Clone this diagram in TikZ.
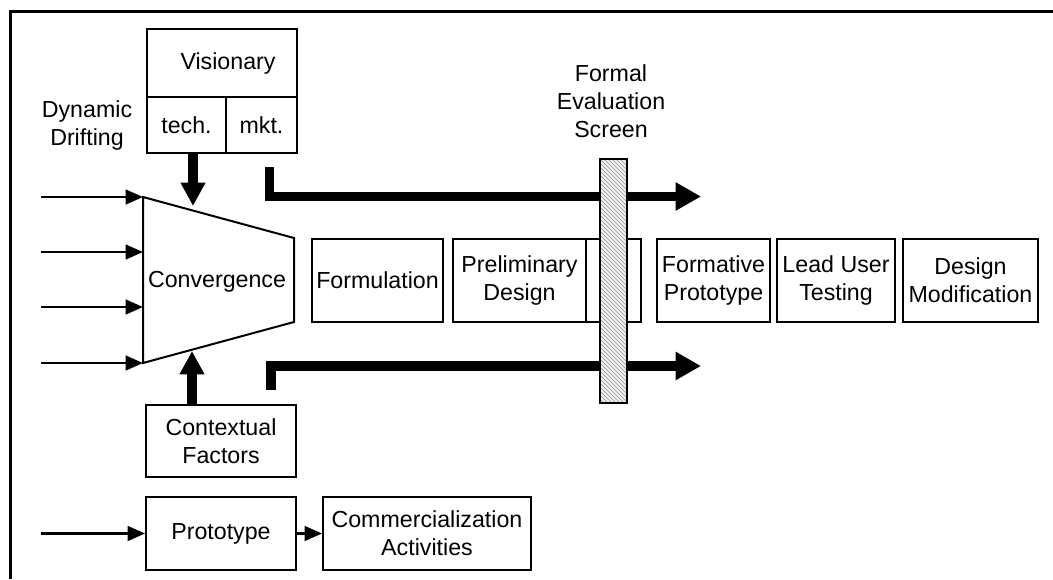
\documentclass[tikz,border=0pt]{standalone}
\usepackage{fontspec}
\setmainfont{Liberation Sans}
\usetikzlibrary{arrows.meta,patterns}
\begin{document}
\begin{tikzpicture}[x=0.75pt,y=-0.75pt,
  txt/.style={font=\fontsize{17.4}{21}\selectfont, align=center, inner sep=0pt},
  box/.style={txt, draw, line width=1.5pt, anchor=center},
  thinarrow/.style={line width=1.7pt, -{Triangle[length=13pt,width=11pt]}},
  thickarrow/.style={line width=6.8pt, -{Triangle[length=19pt,width=20pt]}},
  thickup/.style={line width=7.5pt, -{Triangle[length=17.5pt,width=17.5pt]}},
  screenbox/.style={draw, line width=1.4pt, preaction={fill=gray!12}, pattern=north west lines, pattern color=gray!80, minimum width=20.25pt, minimum height=183pt, inner sep=0pt}
]
\useasboundingbox (0,0) rectangle (1053,579);
% frame (top and left edges)
\coordinate (fbl) at (10.5,579);
\coordinate (ftl) at (10.5,11.5);
\coordinate (ftr) at (1053,11.5);
\draw[line width=2.6pt] (fbl) -- (ftl) -- (ftr);

% Visionary block
\node[box, minimum width=112.5pt, minimum height=51pt] (vis) at (222,63) {\hspace*{9pt}Visionary};
\node[box, minimum width=59.25pt, minimum height=42pt] (tech) at (186.5,125) {tech.};
\node[box, minimum width=53.25pt, minimum height=42pt] (mkt) at (261.5,125) {mkt.};

\node[txt] (dyn) at (87,125.5) {Dynamic\\Drifting};
\node[txt] (fes) at (611,101) {Formal\\Evaluation\\Screen};

% Convergence trapezoid
\coordinate (c1) at (143,197);
\coordinate (c2) at (294,238);
\coordinate (c3) at (294,322);
\coordinate (c4) at (143,363);
\draw[line width=1.5pt, line join=miter] (c1) -- (c2) -- (c3) -- (c4) -- cycle;
\node[txt] (conv) at (217,282) {Convergence};

% incoming thin arrows
\coordinate (i1) at (41,197);
\coordinate (i2) at (41,252);
\coordinate (i3) at (41,307);
\coordinate (i4) at (41,363);
\coordinate (e2) at (143,252);
\coordinate (e3) at (143,307);
\draw[thinarrow] (i1) -- (c1);
\draw[thinarrow] (i2) -- (e2);
\draw[thinarrow] (i3) -- (e3);
\draw[thinarrow] (i4) -- (c4);

% stage boxes
\node[box, minimum width=98.25pt, minimum height=62.25pt] (form) at (377.5,280.5) {Formulation};
\node[box, minimum width=99.75pt, minimum height=62.25pt] (prelim) at (519.5,280.5) {Preliminary\\Design};
\node[box, minimum width=41.25pt, minimum height=62.25pt] (hidden) at (613.5,280.5) {};
\node[box, minimum width=84.75pt, minimum height=62.25pt] (formative) at (713.5,280.5) {Formative\\Prototype};
\node[box, minimum width=88.5pt, minimum height=62.25pt] (lead) at (836,280.5) {Lead User\\Testing};
\node[box, minimum width=101.25pt, minimum height=62.25pt] (dmod) at (970.5,280.5) {Design\\Modification};

% bottom boxes
\node[box, minimum width=112.5pt, minimum height=54pt] (ctx) at (221,441) {Contextual\\Factors};
\node[box, minimum width=112.5pt, minimum height=54.75pt] (proto) at (221,533.5) {Prototype};
\node[box, minimum width=156pt, minimum height=54.75pt] (comm) at (427,533.5) {Commercialization\\Activities};
\coordinate (pin) at (41,533.5);
\draw[thinarrow] (pin) -- (proto);
\draw[thinarrow] (proto) -- (comm);

% thick vertical arrows
\coordinate (techout) at (193,153);
\coordinate (convtop) at (193,206);
\draw[thickup] (techout) -- (convtop);
\coordinate (ctxout) at (192,405);
\coordinate (convbot) at (192,351);
\draw[thickup] (ctxout) -- (convbot);

% thick brackets
\coordinate (u0) at (269.5,167);
\coordinate (u1) at (269.5,196.5);
\coordinate (u2) at (701,196.5);
\draw[thickarrow, line join=miter] (u0) -- (u1) -- (u2);
\coordinate (l0) at (271,390);
\coordinate (l1) at (271,366);
\coordinate (l2) at (701,366);
\draw[thickarrow, line join=miter] (l0) -- (l1) -- (l2);

% evaluation screen
\node[screenbox] (scr) at (613.5,281) {};
\end{tikzpicture}
\end{document}
